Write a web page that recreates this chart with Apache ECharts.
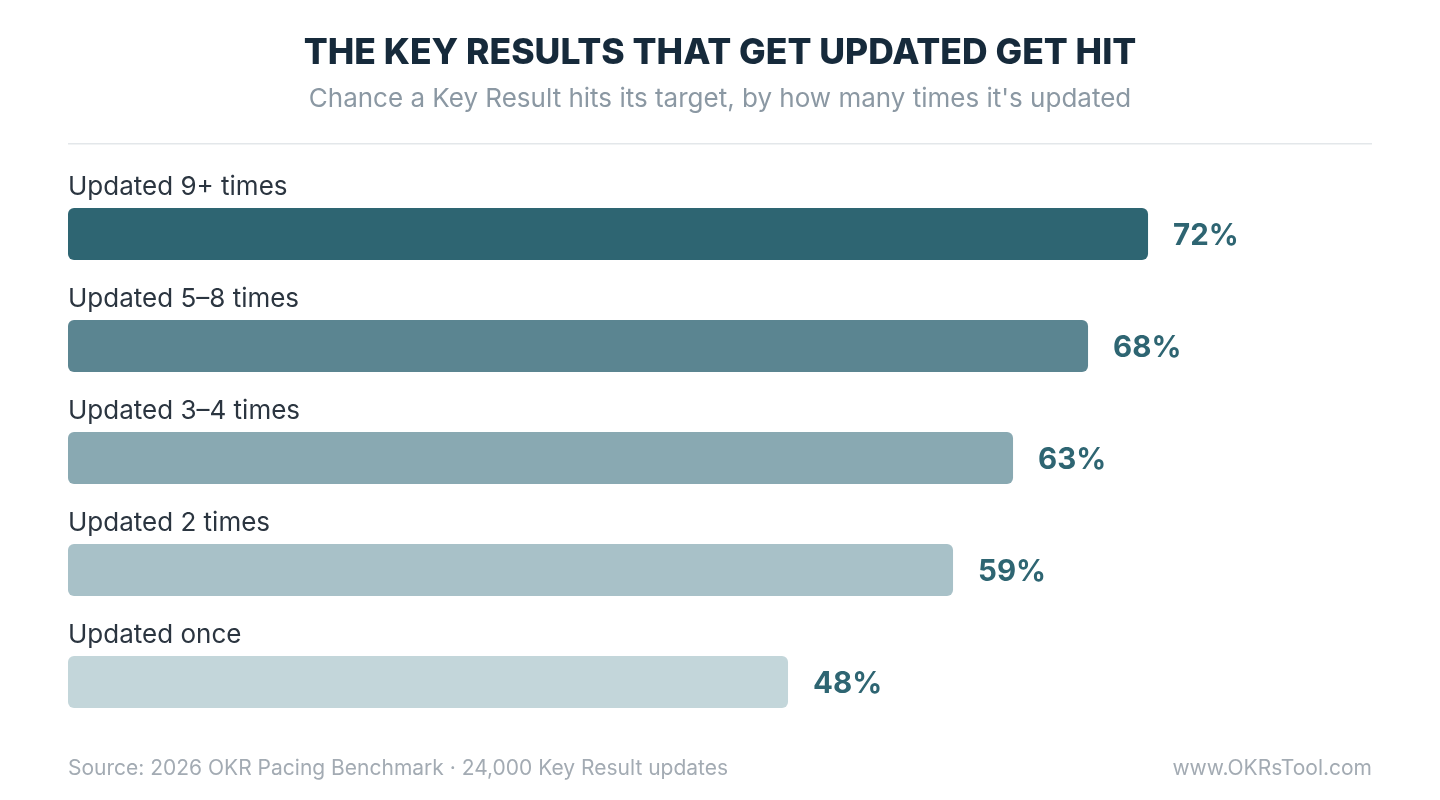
<!DOCTYPE html>
<html>
<head>
<meta charset="utf-8">
<script src="https://cdn.jsdelivr.net/npm/echarts@6/dist/echarts.min.js"></script>
<style>
  html, body { margin: 0; padding: 0; background: #ffffff; }
  #main { width: 1440px; height: 800px; }
</style>
</head>
<body>
<div id="main"></div>
<script>
const categories = ["Updated 9+ times", "Updated 5\u20138 times", "Updated 3\u20134 times", "Updated 2 times", "Updated once"];
const hitRate = [72, 68, 63, 59, 48];
const barColors = ["#2e6572", "#5b8591", "#89a9b2", "#a8c1c8", "#c3d6da"];

const font = "Inter, 'Noto Sans', sans-serif";

const options = {
  animation: false,
  title: {
    text: "THE KEY RESULTS THAT GET UPDATED GET HIT",
    subtext: "Chance a Key Result hits its target, by how many times it's updated",
    left: "center",
    top: 33,
    padding: 0,
    itemGap: 11,
    textStyle: {
      fontFamily: font,
      fontSize: 35.5,
      fontWeight: 800,
      color: "#162a3b",
      lineHeight: 40
    },
    subtextStyle: {
      fontFamily: font,
      fontSize: 26,
      color: "#8b98a3",
      lineHeight: 30
    }
  },
  grid: { left: 68, right: 68, top: 178, bottom: 62 },
  xAxis: {
    type: "value",
    min: 0,
    max: 86.93,
    show: false
  },
  yAxis: {
    type: "category",
    data: categories,
    inverse: true,
    show: false
  },
  series: [
    {
      type: "bar",
      barWidth: 52,
      silent: true,
      data: hitRate.map((v, i) => ({ value: v, itemStyle: { color: barColors[i] } })),
      itemStyle: { borderRadius: 6 },
      label: {
        show: true,
        position: "right",
        distance: 25,
        offset: [0, 2],
        formatter: "{c}%",
        fontFamily: font,
        fontSize: 29.5,
        fontWeight: 700,
        color: "#2e6572"
      }
    },
    {
      type: "bar",
      barWidth: 52,
      barGap: "-100%",
      silent: true,
      data: hitRate,
      itemStyle: { color: "rgba(0,0,0,0)" },
      label: {
        show: true,
        position: "insideLeft",
        distance: 0,
        offset: [0, -47],
        formatter: (p) => categories[p.dataIndex],
        fontFamily: font,
        fontSize: 26,
        color: "#2b3540"
      }
    }
  ],
  graphic: [
    {
      type: "rect",
      shape: { x: 68, y: 143, width: 1304, height: 1.5 },
      style: { fill: "#e3e7ea" },
      silent: true
    },
    {
      type: "text",
      left: 68,
      top: 758,
      style: {
        text: "Source: 2026 OKR Pacing Benchmark \u00b7 24,000 Key Result updates",
        font: "21px " + font,
        fill: "#a3abb3"
      }
    },
    {
      type: "text",
      right: 68,
      top: 758,
      style: {
        text: "www.OKRsTool.com",
        font: "21px " + font,
        fill: "#a3abb3"
      }
    }
  ]
};

var myChart = echarts.init(document.getElementById("main"));
myChart.setOption(options);
window.onresize = function() {
  myChart.resize();
};
</script>
</body>
</html>
